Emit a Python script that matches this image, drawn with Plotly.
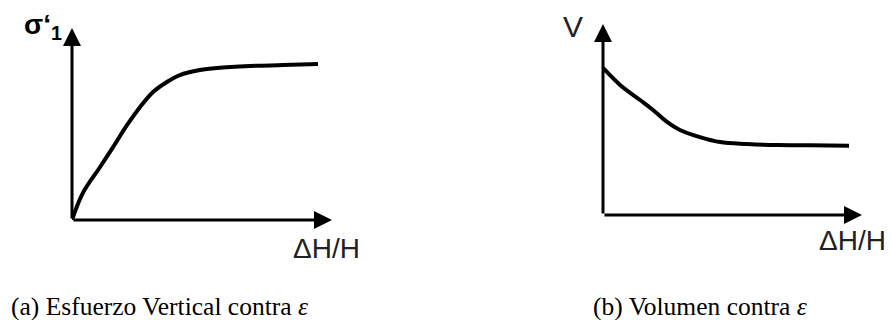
import plotly.graph_objects as go

W, H = 892, 320

# curve (a): vertical stress vs strain
strain_a = [0, 0.42, 1.08, 1.58, 2.12, 2.62, 3.12, 3.65, 4.15, 4.92, 5.58, 6.85, 8.12, 9.46]
stress_a = [0, 1.41, 2.76, 3.80, 4.95, 5.89, 6.67, 7.19, 7.55, 7.81, 7.92, 8.02, 8.07, 8.13]

# curve (b): volume vs strain
strain_b = [0, 0.66, 1.43, 1.93, 2.47, 2.97, 3.74, 4.52, 5.56, 6.72, 7.99, 9.50]
volume_b = [7.70, 6.81, 6.02, 5.50, 4.87, 4.45, 4.08, 3.82, 3.72, 3.66, 3.65, 3.63]

captions = ["(a) Esfuerzo Vertical contra <i>ε</i>", "(b) Volumen contra <i>ε</i>"]
ylabels = ["<b>σ‘</b><sub><b>1</b></sub>", "V"]
xlabel = "ΔH/H"

def px_x(p):
    return p / W

def px_y(p):
    return 1 - p / H

fig = go.Figure()

# axis boxes in pixels: (left, right, bottom, top)
boxes = [(72, 332, 220, 28), (603, 862, 215, 24)]
for i, (l, r, b, t) in enumerate(boxes):
    n = "" if i == 0 else str(i + 1)
    fig.update_layout(**{
        "xaxis" + n: dict(domain=[px_x(l), px_x(r)], range=[0, 10], visible=False,
                          anchor="y" + n, fixedrange=True),
        "yaxis" + n: dict(domain=[px_y(b), px_y(t)], range=[0, 10], visible=False,
                          anchor="x" + n, fixedrange=True),
    })

fig.add_trace(go.Scatter(x=strain_a, y=stress_a, mode="lines",
                         line=dict(color="black", width=4, shape="spline"),
                         xaxis="x", yaxis="y", hoverinfo="skip"))
fig.add_trace(go.Scatter(x=strain_b, y=volume_b, mode="lines",
                         line=dict(color="black", width=4, shape="spline"),
                         xaxis="x2", yaxis="y2", hoverinfo="skip"))

# axis arrows
for n in ["", "2"]:
    for (x1, y1) in [(10, 0), (0, 10)]:
        fig.add_annotation(x=x1, y=y1, ax=0, ay=0, xref="x" + n, yref="y" + n,
                           axref="x" + n, ayref="y" + n, text="", showarrow=True,
                           arrowhead=2, arrowsize=1.2, arrowwidth=3, arrowcolor="black")

sans = "Liberation Sans, Arial, sans-serif"
serif = "Liberation Serif, Times New Roman, serif"

# y labels
fig.add_annotation(x=px_x(22), y=px_y(26), xref="paper", yref="paper", text=ylabels[0],
                   showarrow=False, xanchor="left", yanchor="middle",
                   font=dict(family=sans, size=28, color="black"))
fig.add_annotation(x=px_x(561), y=px_y(27), xref="paper", yref="paper", text=ylabels[1],
                   showarrow=False, xanchor="left", yanchor="middle",
                   font=dict(family=sans, size=30, color="#222"))

# x labels
for xl, yc in [(291, 248), (817, 240)]:
    fig.add_annotation(x=px_x(xl), y=px_y(yc), xref="paper", yref="paper", text=xlabel,
                       showarrow=False, xanchor="left", yanchor="middle",
                       font=dict(family=sans, size=28, color="#222"))

# captions
for xl, cap in [(9, captions[0]), (591, captions[1])]:
    fig.add_annotation(x=px_x(xl), y=px_y(306), xref="paper", yref="paper", text=cap,
                       showarrow=False, xanchor="left", yanchor="middle",
                       font=dict(family=serif, size=25.5, color="black"))

fig.update_layout(width=W, height=H, margin=dict(l=0, r=0, t=0, b=0),
                  paper_bgcolor="white", plot_bgcolor="white", showlegend=False)

fig.write_html("out.html", config={"displayModeBar": False},
               post_script="document.body.style.margin='0';document.body.style.overflow='hidden';")
